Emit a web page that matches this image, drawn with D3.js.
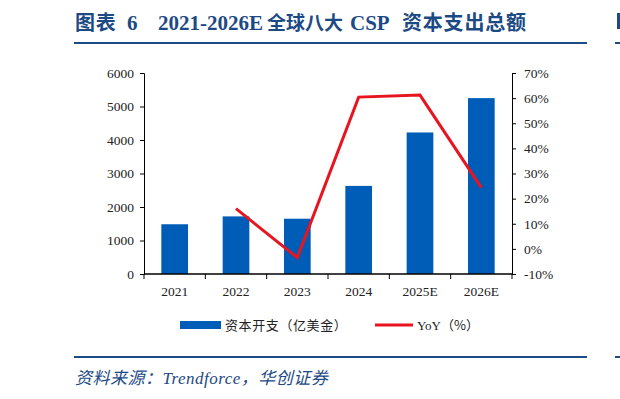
<!DOCTYPE html>
<html>
<head>
<meta charset="utf-8">
<script src="https://cdn.jsdelivr.net/npm/d3@7"></script>
<style>
body { margin: 0; background: #fff; }
svg { display: block; }
</style>
</head>
<body>
<div id="chart"></div>
<script>
var years = ["2021", "2022", "2023", "2024", "2025E", "2026E"]
var capex = [1485, 1720, 1650, 2630, 4225, 5250]
var yoy = [null, 16, -3.5, 60.4, 61.2, 24.4]
var leftTicks = [0, 1000, 2000, 3000, 4000, 5000, 6000]
var rightTicks = [-10, 0, 10, 20, 30, 40, 50, 60, 70]

var width = 620
var height = 399
var margin = {top: 73, right: 108, bottom: 125, left: 144}

var navy = "#1c4a85"
var serif = "'Liberation Serif', 'Times New Roman', serif"
var cjk = "'Noto Sans CJK SC', sans-serif"

var svg = d3.select("#chart").append("svg")
  .attr("width", width)
  .attr("height", height)

// title, placed piece by piece
var titleParts = [
  {t: "图表", x: 75, f: cjk, s: 20, ls: 0.8},
  {t: "6", x: 127, f: serif, s: 21, ls: 0},
  {t: "2021-2026E", x: 158, f: serif, s: 21, ls: 0},
  {t: "全球八大", x: 267, f: cjk, s: 19, ls: 0},
  {t: "CSP", x: 350, f: serif, s: 21, ls: 0},
  {t: "资本支出总额", x: 402, f: cjk, s: 20, ls: 0.8}
]
svg.selectAll("text.title")
  .data(titleParts)
  .enter().append("text")
  .attr("class", "title")
  .attr("x", d => d.x).attr("y", 30)
  .attr("fill", navy)
  .style("font-weight", "bold")
  .style("font-family", d => d.f)
  .style("font-size", d => d.s + "px")
  .style("letter-spacing", d => d.ls + "px")
  .text(d => d.t)

svg.append("rect").attr("x", 74).attr("y", 42).attr("width", 513).attr("height", 2).attr("fill", navy)
svg.append("rect").attr("x", 74).attr("y", 356).attr("width", 513).attr("height", 2).attr("fill", navy)
// cropped neighbour chart at right edge
svg.append("rect").attr("x", 617).attr("y", 13).attr("width", 3).attr("height", 16).attr("fill", navy)
svg.append("rect").attr("x", 615).attr("y", 42).attr("width", 5).attr("height", 2).attr("fill", navy)
svg.append("rect").attr("x", 615).attr("y", 356).attr("width", 5).attr("height", 2).attr("fill", navy)

svg.append("text")
  .attr("x", 75).attr("y", 384)
  .attr("fill", navy)
  .style("font-family", "'Liberation Serif', 'Noto Sans CJK SC', serif")
  .style("font-style", "italic")
  .style("font-size", "17px")
  .style("letter-spacing", "0.5px")
  .text("资料来源：Trendforce，华创证券")

var w = width - margin.left - margin.right
var h = height - margin.top - margin.bottom
var g = svg.append("g").attr("transform", "translate(" + margin.left + "," + margin.top + ")")

var x = d3.scaleBand().domain(years).range([0, w]).paddingInner(0.565).paddingOuter(0.2825)
var yL = d3.scaleLinear().domain([0, 6000]).range([h, 0])
var yR = d3.scaleLinear().domain([-10, 70]).range([h, 0])

// bars
g.selectAll("rect.bar")
  .data(capex)
  .enter()
  .append("rect")
  .attr("class", "bar")
  .attr("x", (d, i) => x(years[i]))
  .attr("y", d => yL(d))
  .attr("width", x.bandwidth())
  .attr("height", d => h - yL(d))
  .attr("fill", "#005db7")

// axes
var left = g.append("g")
  .call(d3.axisLeft(yL).tickValues(leftTicks).tickSize(4).tickPadding(6).tickFormat(d3.format("d")))
var right = g.append("g")
  .attr("transform", "translate(" + w + ",0)")
  .call(d3.axisRight(yR).tickValues(rightTicks).tickSize(4).tickPadding(8).tickFormat(d => d + "%"))

// bottom axis with ticks between categories
var bottom = g.append("g").attr("transform", "translate(0," + h + ")")
bottom.append("line").attr("x1", 0).attr("x2", w).attr("stroke", "#000").attr("stroke-width", 1.3)
bottom.selectAll("line.tk")
  .data(d3.range(years.length + 1))
  .enter().append("line")
  .attr("class", "tk")
  .attr("x1", i => i * x.step()).attr("x2", i => i * x.step())
  .attr("y1", 0).attr("y2", 5)
  .attr("stroke", "#000")
bottom.selectAll("text")
  .data(years)
  .enter().append("text")
  .attr("x", d => x(d) + x.bandwidth() / 2)
  .attr("y", 22)
  .attr("text-anchor", "middle")
  .style("font-family", serif)
  .style("font-size", "13.5px")
  .attr("fill", "#222")
  .text(d => d)

;[left, right].forEach(ax => {
  ax.select(".domain").attr("stroke", "#000")
  ax.selectAll("text").style("font-family", serif).style("font-size", "13.5px").attr("fill", "#222")
})

// yoy line
var line = d3.line()
  .defined(d => d != null)
  .x((d, i) => x(years[i]) + x.bandwidth() / 2)
  .y(d => yR(d))
g.append("path")
  .datum(yoy)
  .attr("d", line)
  .attr("fill", "none")
  .attr("stroke", "#e8141f")
  .attr("stroke-width", 3)

// legend
var lg = svg.append("g")
lg.append("rect").attr("x", 180).attr("y", 321).attr("width", 41).attr("height", 8).attr("fill", "#005db7")
lg.append("text").attr("x", 225).attr("y", 330)
  .style("font-family", cjk).style("font-size", "13px").style("letter-spacing", "0.6px").attr("fill", "#222")
  .text("资本开支（亿美金）")
lg.append("line").attr("x1", 375).attr("x2", 413).attr("y1", 325).attr("y2", 325)
  .attr("stroke", "#e8141f").attr("stroke-width", 3)
var t2 = lg.append("text").attr("x", 417).attr("y", 330).style("font-size", "13px").attr("fill", "#222")
t2.append("tspan").style("font-family", serif).text("YoY")
t2.append("tspan").style("font-family", cjk).text("（%）")
</script>
</body>
</html>
